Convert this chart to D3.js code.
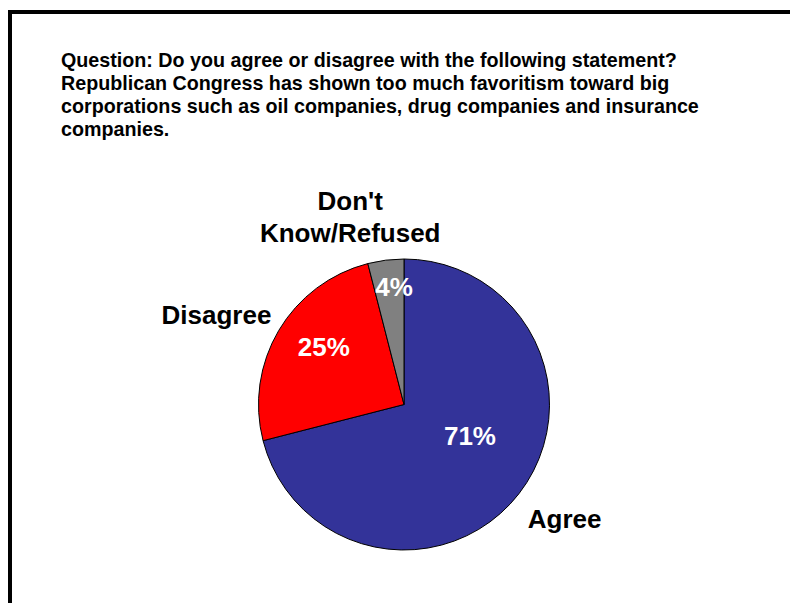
<!DOCTYPE html>
<html>
<head>
<meta charset="utf-8">
<script src="https://cdn.jsdelivr.net/npm/d3@7"></script>
<style>
  body { margin: 0; background: #fff; }
  svg { display: block; font-family: "Liberation Sans", Arial, sans-serif; font-weight: bold; }
</style>
</head>
<body>
<svg id="chart" width="790" height="603"></svg>
<script>
const TITLE_LINES = [
  "Question: Do you agree or disagree with the following statement?",
  "Republican Congress has shown too much favoritism toward big",
  "corporations such as oil companies, drug companies and insurance",
  "companies.",
];
const CATEGORIES = ["Agree", "Disagree", "Don't Know/Refused"];
const CATEGORY_LINES = [["Agree"], ["Disagree"], ["Don't", "Know/Refused"]];
const VALUES = [71, 25, 4];
const COLORS = ["#333399", "#ff0000", "#808080"];

const width = 790;
const height = 603;
const center = { x: 404, y: 404.5 };
const radius = 145.5;

// nudges to match where the original spreadsheet put its labels
const pctNudge = [[-3, -22], [-5, -13], [1, -31]];
const nameNudge = [[17, 3], [-31, 3], [-31, -7]];

const svg = d3.select("#chart");

// frame (only top and left edges are inside the picture)
svg.append("rect")
  .attr("x", 10).attr("y", 12)
  .attr("width", 820).attr("height", 640)
  .attr("fill", "none")
  .attr("stroke", "#000")
  .attr("stroke-width", 4);

svg.append("g")
  .selectAll("text")
  .data(TITLE_LINES)
  .enter()
  .append("text")
  .attr("x", 61)
  .attr("y", (d, i) => 67 + i * 23)
  .style("font-size", "19.7px")
  .attr("fill", "#000")
  .text((d) => d);

const pie = d3.pie().sort(null).value((d) => d);
const arcs = pie(VALUES);

const arc = d3.arc().innerRadius(0).outerRadius(radius);
const pctArc = d3.arc().innerRadius(radius * 0.6).outerRadius(radius * 0.6);
const nameArc = d3.arc().innerRadius(radius * 1.25).outerRadius(radius * 1.25);

const g = svg.append("g").attr("transform", `translate(${center.x},${center.y})`);

g.selectAll(".slice")
  .data(arcs)
  .enter()
  .append("path")
  .classed("slice", true)
  .attr("d", arc)
  .attr("fill", (d, i) => COLORS[i])
  .attr("stroke", "#000")
  .attr("stroke-width", 1);

g.selectAll(".pct")
  .data(arcs)
  .enter()
  .append("text")
  .classed("pct", true)
  .attr("x", (d, i) => pctArc.centroid(d)[0] + pctNudge[i][0])
  .attr("y", (d, i) => pctArc.centroid(d)[1] + pctNudge[i][1])
  .attr("dy", "0.35em")
  .attr("text-anchor", "middle")
  .style("font-size", "26px")
  .attr("fill", "#fff")
  .text((d) => d.value + "%");

g.selectAll(".name")
  .data(arcs)
  .enter()
  .append("text")
  .classed("name", true)
  .attr("text-anchor", "middle")
  .style("font-size", "26px")
  .attr("fill", "#000")
  .each(function (d, i) {
    const [cx, cy] = nameArc.centroid(d);
    const lines = CATEGORY_LINES[i];
    const x = cx + nameNudge[i][0];
    const y0 = cy + nameNudge[i][1] - (lines.length - 1) * 16;
    d3.select(this)
      .selectAll("tspan")
      .data(lines)
      .enter()
      .append("tspan")
      .attr("x", x)
      .attr("y", (l, k) => y0 + k * 32)
      .attr("dy", "0.35em")
      .text((l) => l);
  });
</script>
</body>
</html>
